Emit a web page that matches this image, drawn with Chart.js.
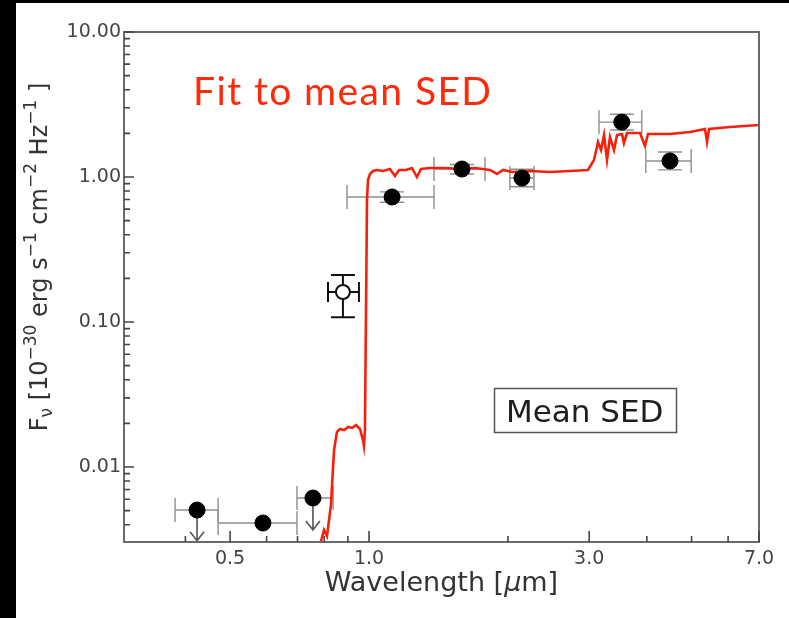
<!DOCTYPE html>
<html>
<head>
<meta charset="utf-8">
<script src="https://cdn.jsdelivr.net/npm/chart.js@4.4.0/dist/chart.umd.min.js"></script>
<style>
  html, body { margin: 0; padding: 0; background: #000; overflow: hidden; }
  #wrap { position: absolute; left: 16px; top: 3px; width: 773px; height: 615px; background: #fff; }
  canvas { display: block; }
</style>
</head>
<body>
<div id="wrap"><canvas id="chartSED" width="773" height="615"></canvas></div>
<script>
// =========================
//  Data (wavelength in micron, flux in 1e-30 erg/s/cm2/Hz)
// =========================

// model SED
const sedWave = [0.783, 0.799, 0.811, 0.827, 0.840, 0.852, 0.865, 0.883, 0.901, 0.919, 0.937, 0.956,
  0.970, 0.975, 0.980, 0.990, 0.995, 1.005, 1.020, 1.041, 1.072, 1.110, 1.138, 1.162, 1.203, 1.239,
  1.270, 1.296, 1.356, 1.461, 1.575, 1.697, 1.829, 1.894, 1.951, 2.041, 2.233, 2.467, 2.727, 2.982,
  3.073, 3.135, 3.183, 3.231, 3.279, 3.328, 3.396, 3.447, 3.533, 3.568, 3.623, 3.866, 3.963, 4.023,
  4.489, 4.962, 5.347, 5.401, 5.455, 6.056, 6.528, 7.000];
const sedFlux = [0.0029, 0.00368, 0.00334, 0.00547, 0.0131, 0.0174, 0.0183, 0.0180, 0.0189, 0.0186, 0.0195, 0.0183,
  0.0154, 0.0140, 0.0180, 0.694, 0.953, 1.049, 1.100, 1.118, 1.100, 1.135, 1.016, 1.118, 1.118, 1.154,
  1.000, 1.135, 1.154, 1.154, 1.135, 1.154, 1.118, 1.049, 1.118, 1.083, 1.100, 1.083, 1.100, 1.118,
  1.310, 1.743, 1.535, 1.948, 1.310, 1.887, 1.535, 1.948, 1.981, 1.715, 2.010, 2.010, 1.636, 1.981,
  1.981, 2.043, 2.143, 1.743, 2.143, 2.213, 2.249, 2.284];

// photometry, filled symbols
const photWave   = [0.424, 0.589, 0.756, 1.122, 1.590, 2.145, 3.530, 4.490];
const photFlux   = [0.00505, 0.00411, 0.00611, 0.728, 1.135, 0.984, 2.390, 1.290];
const photWaveLo = [0.380, 0.471, 0.698, 0.896, 1.383, 2.020, 3.150, 3.980];
const photWaveHi = [0.471, 0.698, 0.836, 1.383, 1.784, 2.278, 3.900, 4.990];
const photFluxLo = [null, null, null, 0.67, 1.05, 0.856, 2.11, 1.119];
const photFluxHi = [null, null, null, 0.79, 1.22, 1.13, 2.71, 1.487];
const photUpper  = [true, false, true, false, false, false, false, false];
const upperArrowTo = [0.0031, null, 0.00368, null, null, null, null, null];

// photometry, open symbol
const openWave   = [0.878];
const openFlux   = [0.161];
const openWaveLo = [0.815];
const openWaveHi = [0.951];
const openFluxLo = [0.108];
const openFluxHi = [0.211];

// axes
const xTickVals = [0.5, 1.0, 3.0, 7.0];
const xTickText = ['0.5', '1.0', '3.0', '7.0'];
const xMinorVals = [0.4, 0.6, 0.7, 0.8, 0.9, 2, 4, 5, 6];
const yTickVals = [0.01, 0.1, 1, 10];
const yTickText = ['0.01', '0.10', '1.00', '10.00'];
const yMinorVals = [0.004, 0.005, 0.006, 0.007, 0.008, 0.009,
  0.02, 0.03, 0.04, 0.05, 0.06, 0.07, 0.08, 0.09,
  0.2, 0.3, 0.4, 0.5, 0.6, 0.7, 0.8, 0.9,
  2, 3, 4, 5, 6, 7, 8, 9];

const xTitleParts = [['Wavelength [', false], ['\u03BC', true], ['m]', false]];
const yTitleParts = [['F', 0], ['\u03BD', -1], [' [10', 0], ['\u221230', 1], [' erg s', 0], ['\u22121', 1],
  [' cm', 0], ['\u22122', 1], [' Hz', 0], ['\u22121', 1], [' ]', 0]];
const fitLabel = 'Fit to mean SED';
const boxLabel = 'Mean SED';

// =========================
//  Drawing helpers
// =========================

const CAP = 12;
const AXIS_COLOR = '#6a6a6a';
const FONT = '"DejaVu Sans", sans-serif';

function hBar(ctx, x0, x1, y, cap) {
  ctx.beginPath();
  ctx.moveTo(x0, y); ctx.lineTo(x1, y);
  ctx.moveTo(x0, y - cap); ctx.lineTo(x0, y + cap);
  ctx.moveTo(x1, y - cap); ctx.lineTo(x1, y + cap);
  ctx.stroke();
}

function vBar(ctx, x, y0, y1, cap) {
  ctx.beginPath();
  ctx.moveTo(x, y0); ctx.lineTo(x, y1);
  ctx.moveTo(x - cap, y0); ctx.lineTo(x + cap, y0);
  ctx.moveTo(x - cap, y1); ctx.lineTo(x + cap, y1);
  ctx.stroke();
}

function downArrow(ctx, x, y0, y1) {
  ctx.beginPath();
  ctx.moveTo(x, y0); ctx.lineTo(x, y1);
  ctx.moveTo(x - 7, y1 - 9); ctx.lineTo(x, y1); ctx.lineTo(x + 7, y1 - 9);
  ctx.stroke();
}

const sedDecor = {
  id: 'sedDecor',
  beforeDatasetsDraw(chart) {
    const { ctx, scales: { x, y } } = chart;
    ctx.save();
    ctx.lineWidth = 1.4;
    ctx.strokeStyle = '#8e8e8e';
    for (let i = 0; i < photWave.length; i++) {
      const px = x.getPixelForValue(photWave[i]);
      const py = y.getPixelForValue(photFlux[i]);
      hBar(ctx, x.getPixelForValue(photWaveLo[i]), x.getPixelForValue(photWaveHi[i]), py, CAP);
      if (photFluxLo[i] !== null) {
        vBar(ctx, px, y.getPixelForValue(photFluxHi[i]), y.getPixelForValue(photFluxLo[i]), CAP);
      }
    }
    ctx.strokeStyle = '#555';
    ctx.lineWidth = 1.6;
    for (let i = 0; i < photWave.length; i++) {
      if (!photUpper[i]) continue;
      const px = x.getPixelForValue(photWave[i]);
      downArrow(ctx, px, y.getPixelForValue(photFlux[i]), y.getPixelForValue(upperArrowTo[i]));
    }
    ctx.strokeStyle = '#111';
    ctx.lineWidth = 2;
    for (let i = 0; i < openWave.length; i++) {
      const px = x.getPixelForValue(openWave[i]);
      const py = y.getPixelForValue(openFlux[i]);
      hBar(ctx, x.getPixelForValue(openWaveLo[i]), x.getPixelForValue(openWaveHi[i]), py, 10);
      vBar(ctx, px, y.getPixelForValue(openFluxHi[i]), y.getPixelForValue(openFluxLo[i]), CAP);
    }
    ctx.restore();
  },
  afterDraw(chart) {
    const { ctx, chartArea: a, scales: { x, y } } = chart;
    ctx.save();

    // frame
    ctx.strokeStyle = AXIS_COLOR;
    ctx.lineWidth = 2;
    ctx.strokeRect(a.left, a.top, a.right - a.left, a.bottom - a.top);

    // inward ticks
    ctx.strokeStyle = '#444';
    ctx.lineWidth = 1.6;
    ctx.beginPath();
    for (const v of xTickVals) {
      const px = x.getPixelForValue(v);
      ctx.moveTo(px, a.bottom); ctx.lineTo(px, a.bottom - 11);
    }
    for (const v of xMinorVals) {
      const px = x.getPixelForValue(v);
      ctx.moveTo(px, a.bottom); ctx.lineTo(px, a.bottom - 6);
    }
    for (const v of yTickVals) {
      const py = y.getPixelForValue(v);
      ctx.moveTo(a.left, py); ctx.lineTo(a.left + 10, py);
    }
    for (const v of yMinorVals) {
      const py = y.getPixelForValue(v);
      ctx.moveTo(a.left, py); ctx.lineTo(a.left + 6, py);
    }
    ctx.stroke();

    // x title
    ctx.fillStyle = '#333';
    ctx.textBaseline = 'alphabetic';
    const xf = 27;
    let total = 0;
    for (const [t, it] of xTitleParts) {
      ctx.font = (it ? 'italic ' : '') + xf + 'px ' + FONT;
      total += ctx.measureText(t).width;
    }
    let cx = (a.left + a.right) / 2 - total / 2;
    for (const [t, it] of xTitleParts) {
      ctx.font = (it ? 'italic ' : '') + xf + 'px ' + FONT;
      ctx.fillText(t, cx, a.bottom + 49);
      cx += ctx.measureText(t).width;
    }

    // y title (rotated, with super/subscripts)
    const yf = 24;
    ctx.save();
    ctx.translate(31, (a.top + a.bottom) / 2 - 30);
    ctx.rotate(-Math.PI / 2);
    total = 0;
    for (const [t, k] of yTitleParts) {
      ctx.font = (k === 0 ? yf : Math.round(yf * 0.7)) + 'px ' + FONT;
      total += ctx.measureText(t).width;
    }
    let lx = -total / 2;
    for (const [t, k] of yTitleParts) {
      ctx.font = (k === 0 ? yf : Math.round(yf * 0.7)) + 'px ' + FONT;
      const off = k === 1 ? -yf * 0.45 : k === -1 ? yf * 0.2 : 0;
      ctx.fillText(t, lx, off);
      lx += ctx.measureText(t).width;
    }
    ctx.restore();

    // overlay caption
    ctx.fillStyle = '#ff2a0a';
    ctx.font = '39px Lato, "Open Sans", sans-serif';
    ctx.letterSpacing = '1.4px';
    ctx.fillText(fitLabel, 177, 102);
    ctx.letterSpacing = '0px';

    // legend box
    ctx.strokeStyle = '#555';
    ctx.lineWidth = 1.5;
    ctx.strokeRect(478.5, 385.5, 182, 44);
    ctx.fillStyle = '#1e1e1e';
    ctx.font = '31px ' + FONT;
    ctx.fillText(boxLabel, 490, 419);

    ctx.restore();
  }
};

// =========================
//  Chart
// =========================

const tickFont = { family: FONT, size: 19 };

new Chart(document.getElementById('chartSED').getContext('2d'), {
  type: 'scatter',
  data: {
    datasets: [
      {
        label: 'photometry',
        data: photWave.map((w, i) => ({ x: w, y: photFlux[i] })),
        backgroundColor: '#000',
        borderColor: '#000',
        pointRadius: 8,
        order: 0,
      },
      {
        label: 'open',
        data: openWave.map((w, i) => ({ x: w, y: openFlux[i] })),
        backgroundColor: '#fff',
        borderColor: '#111',
        borderWidth: 2,
        pointRadius: 7,
        order: 0,
      },
      {
        label: 'SED fit',
        data: sedWave.map((w, i) => ({ x: w, y: sedFlux[i] })),
        showLine: true,
        borderColor: '#f5200c',
        borderWidth: 2.6,
        pointRadius: 0,
        tension: 0,
        order: 1,
      },
    ],
  },
  options: {
    responsive: false,
    animation: false,
    layout: { padding: { left: 0, top: 29, right: 30, bottom: 0 } },
    plugins: {
      legend: { display: false },
      tooltip: { enabled: false },
    },
    scales: {
      x: {
        type: 'logarithmic',
        min: 0.2945,
        max: 7.0,
        grid: { display: false, drawTicks: false },
        border: { display: false },
        afterBuildTicks: s => { s.ticks = xTickVals.map(v => ({ value: v })); },
        afterFit: s => { s.height = 76; },
        ticks: {
          callback: (v, i) => xTickText[i],
          font: tickFont,
          color: '#444',
          padding: 6,
          maxRotation: 0,
          autoSkip: false,
        },
      },
      y: {
        type: 'logarithmic',
        min: 0.00304,
        max: 10,
        grid: { display: false, drawTicks: false },
        border: { display: false },
        afterBuildTicks: s => { s.ticks = yTickVals.map(v => ({ value: v })); },
        afterFit: s => { s.width = 108; },
        ticks: {
          callback: (v, i) => yTickText[i],
          font: tickFont,
          color: '#444',
          padding: 3,
          autoSkip: false,
        },
      },
    },
  },
  plugins: [sedDecor],
});
</script>
</body>
</html>
